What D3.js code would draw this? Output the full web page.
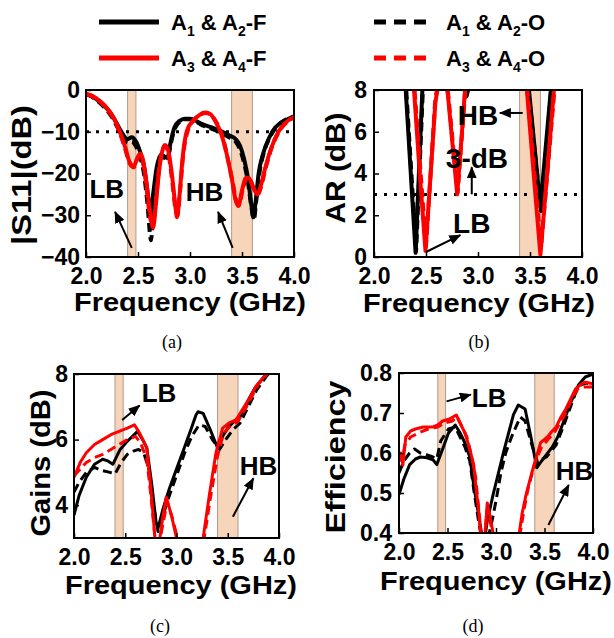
<!DOCTYPE html>
<html>
<head>
<meta charset="utf-8">
<script src="https://cdn.jsdelivr.net/npm/d3@7"></script>
<style>
  body { margin: 0; background: #fff; }
  svg text { font-family: "Liberation Sans", Arial, sans-serif; font-weight: bold; fill: #000; }
</style>
</head>
<body>
<div id="chart"></div>
<script>
// ---- data ----
const freqTicks = [2.0, 2.5, 3.0, 3.5, 4.0];
const legendNames = ["A1 & A2-F", "A3 & A4-F", "A1 & A2-O", "A3 & A4-O"];
const bandLB = [2.40, 2.48];
const bandHB = [3.40, 3.60];

// (a) |S11| in dB, [GHz, dB]
const s11BlackF = [[2.00,-1.0],[2.05,-1.4],[2.10,-2.2],[2.15,-3.2],[2.20,-4.4],[2.25,-6.0],[2.30,-8.2],[2.35,-10.4],[2.40,-11.8],[2.44,-11.3],[2.48,-12.3],[2.52,-14.8],[2.56,-18.5],[2.59,-24],[2.62,-29.5],[2.645,-25],[2.68,-18.5],[2.72,-15.5],[2.76,-16.0],[2.785,-16.3],[2.81,-13],[2.85,-9],[2.90,-7.4],[2.95,-6.9],[3.00,-6.9],[3.05,-7.3],[3.10,-8.0],[3.20,-8.9],[3.30,-9.9],[3.38,-10.9],[3.44,-11.8],[3.48,-13.3],[3.52,-16.5],[3.56,-21.5],[3.59,-27.5],[3.61,-30.5],[3.63,-27],[3.66,-20],[3.70,-15.5],[3.76,-11.5],[3.82,-9.0],[3.90,-7.5],[4.00,-6.3]];
const s11BlackO = [[2.00,-1.0],[2.05,-1.5],[2.10,-2.4],[2.15,-3.5],[2.20,-4.8],[2.25,-6.5],[2.30,-8.8],[2.35,-11.0],[2.40,-12.6],[2.44,-12.4],[2.48,-13.5],[2.52,-16],[2.56,-20.5],[2.59,-27],[2.625,-36],[2.65,-27],[2.68,-19.5],[2.72,-16],[2.76,-16.3],[2.785,-16.5],[2.81,-13.5],[2.85,-9.5],[2.90,-7.6],[2.95,-7.0],[3.00,-7.0],[3.05,-7.4],[3.10,-8.2],[3.20,-9.2],[3.30,-10.3],[3.38,-11.4],[3.44,-12.4],[3.48,-14.2],[3.52,-17.5],[3.56,-22.5],[3.59,-28],[3.615,-31],[3.635,-27],[3.67,-19.5],[3.71,-15],[3.77,-11.2],[3.83,-8.8],[3.90,-7.4],[4.00,-6.4]];
const s11RedF = [[2.00,-0.9],[2.05,-1.3],[2.10,-2.0],[2.15,-3.0],[2.20,-4.3],[2.25,-6.0],[2.30,-8.4],[2.34,-11],[2.38,-14],[2.42,-17.3],[2.46,-18.3],[2.49,-16.5],[2.52,-15.2],[2.55,-17],[2.58,-22],[2.62,-30],[2.645,-33],[2.67,-28],[2.70,-20],[2.73,-15],[2.76,-13.2],[2.79,-14.5],[2.83,-21],[2.86,-28],[2.875,-30.5],[2.90,-25],[2.93,-16],[2.97,-9.8],[3.03,-7.3],[3.09,-6.0],[3.14,-5.4],[3.19,-5.7],[3.24,-7.3],[3.30,-10.5],[3.35,-15],[3.40,-21],[3.44,-26.5],[3.465,-27.8],[3.50,-24],[3.54,-21],[3.57,-21.2],[3.61,-23.5],[3.65,-25],[3.68,-23],[3.72,-19],[3.78,-14],[3.85,-10],[3.92,-7.8],[4.00,-6.5]];
const s11RedO = [[2.00,-1.0],[2.05,-1.4],[2.10,-2.1],[2.15,-3.1],[2.20,-4.5],[2.25,-6.2],[2.30,-8.7],[2.34,-11.3],[2.38,-14.4],[2.42,-17.6],[2.46,-18.5],[2.49,-16.8],[2.52,-15.5],[2.55,-17.5],[2.58,-23],[2.62,-31],[2.645,-32],[2.67,-27],[2.70,-19.5],[2.73,-14.8],[2.76,-13.4],[2.79,-15],[2.83,-22],[2.86,-28.5],[2.88,-30],[2.905,-24],[2.935,-15.5],[2.98,-9.6],[3.04,-7.2],[3.10,-5.9],[3.15,-5.5],[3.20,-5.9],[3.25,-7.6],[3.31,-11],[3.36,-16],[3.41,-22],[3.45,-27],[3.47,-27.5],[3.51,-23.5],[3.55,-21],[3.58,-21.5],[3.62,-24],[3.66,-24.8],[3.69,-22.5],[3.73,-18.5],[3.79,-13.5],[3.86,-9.8],[3.93,-7.7],[4.00,-6.6]];

// (b) axial ratio in dB
const arBlackF = [[2.25,14],[2.305,8],[2.40,0.2],[2.465,8],[2.52,14],[2.80,10],[2.87,8.1],[2.89,7.7],[2.91,8.1],[2.98,10],[3.40,14],[3.49,8],[3.60,2.4],[3.70,8],[3.76,12]];
const arBlackO = [[2.26,14],[2.31,8],[2.405,0.3],[2.47,8],[2.53,14],[3.40,14],[3.485,8],[3.605,2.2],[3.705,8],[3.76,12]];
const arRedF = [[2.33,14],[2.385,8],[2.44,4],[2.495,0.3],[2.545,4],[2.59,7.4],[2.63,8.6],[2.67,8.8],[2.71,7.8],[2.755,5.4],[2.80,3.0],[2.84,5.6],[2.875,8],[2.92,12],[3.40,14],[3.47,8],[3.535,4],[3.60,0.1],[3.665,4],[3.73,8],[3.78,12]];
const arRedO = [[2.34,14],[2.39,8],[2.50,0.5],[2.59,7.6],[2.63,8.7],[2.67,8.8],[2.71,8.0],[2.755,5.6],[2.805,3.1],[2.845,5.8],[2.88,8.1],[2.93,12],[3.40,14],[3.475,8],[3.605,0.4],[3.735,8],[3.78,12]];

// (c) gain in dB
const gainBlackF = [[2.00,3.7],[2.05,4.3],[2.12,4.85],[2.20,5.25],[2.28,5.4],[2.33,5.35],[2.38,5.25],[2.45,5.7],[2.52,5.95],[2.57,6.1],[2.62,6.25],[2.67,6.0],[2.71,5.75],[2.76,4.6],[2.80,3.5],[2.82,3.3],[2.87,3.9],[2.93,4.5],[3.00,5.1],[3.07,5.7],[3.14,6.3],[3.19,6.75],[3.21,6.85],[3.26,6.8],[3.33,6.3],[3.40,5.75],[3.45,6.1],[3.50,6.35],[3.56,6.55],[3.62,6.7],[3.70,7.2],[3.77,7.6],[3.85,7.9],[3.92,8.2],[4.00,8.5]];
const gainBlackO = [[2.00,4.4],[2.05,4.7],[2.12,5.0],[2.20,5.15],[2.28,5.05],[2.35,5.0],[2.40,4.95],[2.46,5.3],[2.52,5.55],[2.58,5.65],[2.63,5.7],[2.68,5.6],[2.73,5.1],[2.78,3.9],[2.82,3.2],[2.86,3.6],[2.92,4.2],[3.00,4.9],[3.08,5.6],[3.15,6.1],[3.22,6.45],[3.28,6.4],[3.35,6.0],[3.42,5.7],[3.48,6.0],[3.55,6.3],[3.62,6.5],[3.70,7.0],[3.78,7.5],[3.87,7.9],[3.95,8.2],[4.00,8.4]];
const gainRedF = [[2.00,4.85],[2.06,5.3],[2.12,5.6],[2.20,5.85],[2.28,6.0],[2.36,6.15],[2.44,6.25],[2.52,6.35],[2.59,6.45],[2.64,6.2],[2.71,5.75],[2.75,4.5],[2.79,3.0],[2.82,2.6],[2.86,3.5],[2.90,4.25],[2.95,3.7],[3.00,3.0],[3.05,2.2],[3.15,1.5],[3.22,2.2],[3.26,3.0],[3.32,4.3],[3.385,5.6],[3.45,6.35],[3.51,6.5],[3.58,6.6],[3.64,6.9],[3.70,7.2],[3.77,7.6],[3.85,7.9],[3.90,8.05],[4.00,8.5]];
const gainRedO = [[2.00,4.9],[2.06,5.1],[2.12,5.3],[2.20,5.45],[2.28,5.55],[2.36,5.7],[2.44,5.85],[2.52,6.0],[2.60,6.1],[2.65,5.9],[2.71,5.4],[2.75,4.3],[2.79,3.0],[2.82,2.6],[2.86,3.3],[2.91,4.1],[2.96,3.6],[3.01,3.0],[3.05,2.2],[3.15,1.5],[3.22,2.2],[3.27,3.0],[3.33,4.2],[3.40,5.5],[3.46,6.2],[3.52,6.4],[3.60,6.55],[3.70,7.1],[3.80,7.7],[3.90,8.05],[4.00,8.45]];

// (d) radiation efficiency
const effBlackF = [[2.00,0.496],[2.05,0.535],[2.11,0.571],[2.17,0.585],[2.22,0.59],[2.29,0.588],[2.35,0.583],[2.39,0.571],[2.45,0.61],[2.51,0.65],[2.58,0.67],[2.63,0.65],[2.68,0.625],[2.73,0.59],[2.77,0.52],[2.82,0.446],[2.85,0.40],[2.88,0.38],[2.91,0.43],[2.97,0.496],[3.03,0.555],[3.08,0.604],[3.13,0.65],[3.18,0.696],[3.23,0.72],[3.30,0.71],[3.36,0.64],[3.42,0.563],[3.47,0.58],[3.52,0.596],[3.58,0.615],[3.63,0.637],[3.70,0.68],[3.76,0.72],[3.85,0.77],[3.92,0.79],[4.00,0.797]];
const effBlackO = [[2.00,0.55],[2.05,0.58],[2.11,0.60],[2.16,0.61],[2.22,0.60],[2.29,0.595],[2.35,0.59],[2.39,0.585],[2.43,0.63],[2.51,0.66],[2.58,0.665],[2.63,0.64],[2.68,0.615],[2.73,0.58],[2.77,0.51],[2.82,0.43],[2.85,0.39],[2.90,0.37],[2.95,0.42],[3.00,0.48],[3.05,0.55],[3.10,0.60],[3.16,0.64],[3.25,0.69],[3.30,0.68],[3.37,0.62],[3.43,0.575],[3.48,0.585],[3.52,0.59],[3.57,0.605],[3.62,0.62],[3.70,0.67],[3.76,0.71],[3.82,0.75],[3.87,0.77],[3.93,0.775],[4.00,0.77]];
const effRedF = [[2.00,0.585],[2.02,0.60],[2.04,0.57],[2.07,0.64],[2.12,0.655],[2.17,0.66],[2.25,0.665],[2.35,0.665],[2.40,0.67],[2.45,0.68],[2.52,0.685],[2.59,0.695],[2.63,0.675],[2.68,0.65],[2.73,0.61],[2.77,0.57],[2.80,0.50],[2.82,0.46],[2.84,0.40],[2.87,0.36],[2.89,0.41],[2.91,0.475],[2.94,0.44],[2.97,0.40],[3.05,0.33],[3.20,0.33],[3.24,0.40],[3.27,0.45],[3.31,0.496],[3.38,0.56],[3.46,0.626],[3.53,0.64],[3.58,0.655],[3.62,0.665],[3.67,0.69],[3.72,0.71],[3.78,0.74],[3.82,0.76],[3.88,0.772],[3.92,0.777],[4.00,0.773]];
const effRedO = [[2.00,0.59],[2.03,0.58],[2.06,0.62],[2.12,0.64],[2.20,0.65],[2.30,0.66],[2.40,0.665],[2.47,0.675],[2.55,0.68],[2.60,0.69],[2.64,0.67],[2.70,0.64],[2.75,0.59],[2.79,0.54],[2.83,0.44],[2.85,0.39],[2.88,0.38],[2.91,0.46],[2.94,0.43],[2.97,0.39],[3.05,0.33],[3.20,0.33],[3.25,0.40],[3.29,0.46],[3.33,0.51],[3.40,0.575],[3.47,0.615],[3.54,0.635],[3.60,0.65],[3.66,0.675],[3.72,0.70],[3.78,0.735],[3.84,0.76],[3.90,0.765],[4.00,0.765]];

// ---- drawing ----
const W = 614, H = 638;
const svg = d3.select("#chart").append("svg").attr("width", W).attr("height", H);
const defs = svg.append("defs");
defs.append("marker")
  .attr("id", "arrow").attr("viewBox", "0 0 12 10")
  .attr("refX", 11).attr("refY", 5)
  .attr("markerWidth", 6).attr("markerHeight", 5)
  .attr("orient", "auto")
  .append("path").attr("d", "M0,0L12,5L0,10z").attr("fill", "#000");

const styles = [
  { color: "#000", dash: null },      // A1&A2-F
  { color: "#000", dash: "9,5" },     // A1&A2-O
  { color: "#ff0000", dash: "9,5" },  // A3&A4-O
  { color: "#ff0000", dash: null }    // A3&A4-F
];

function drawPanel(p) {
  const x = d3.scaleLinear().domain([2, 4]).range([p.x0, p.x1]);
  const y = d3.scaleLinear().domain(p.yDomain).range([p.y1, p.y0]);
  const g = svg.append("g");

  const clipId = "clip-" + p.id;
  defs.append("clipPath").attr("id", clipId)
    .append("rect")
    .attr("x", p.x0).attr("y", p.y0)
    .attr("width", p.x1 - p.x0).attr("height", p.y1 - p.y0);

  // shaded bands
  g.selectAll("rect.band").data(p.bands).join("rect")
    .attr("class", "band")
    .attr("x", d => x(d[0])).attr("y", p.y0)
    .attr("width", d => x(d[1]) - x(d[0])).attr("height", p.y1 - p.y0)
    .attr("fill", "#f7d5bb").attr("stroke", "#b09a8e").attr("stroke-width", 1);

  // reference line
  if (p.refLine != null) {
    g.append("line")
      .attr("x1", p.x0).attr("x2", p.x1)
      .attr("y1", y(p.refLine)).attr("y2", y(p.refLine))
      .attr("stroke", "#000").attr("stroke-width", 3)
      .attr("stroke-dasharray", "3,7");
  }

  const line = d3.line().x(d => x(d[0])).y(d => y(d[1])).curve(p.curve);
  const lg = g.append("g").attr("clip-path", `url(#${clipId})`);
  p.series.forEach((s, i) => {
    lg.append("path")
      .attr("d", line(s))
      .attr("fill", "none")
      .attr("stroke", styles[i].color)
      .attr("stroke-width", p.lw)
      .attr("stroke-dasharray", styles[i].dash)
      .attr("stroke-linejoin", "round");
  });

  // axes
  const xAxis = d3.axisBottom(x).tickValues(freqTicks).tickFormat(d3.format(".1f"))
    .tickSizeInner(-5).tickSizeOuter(0).tickPadding(11);
  const gx = g.append("g").attr("transform", `translate(0,${p.y1})`).call(xAxis);
  const yAxis = d3.axisLeft(y).tickValues(p.yTicks).tickFormat(p.yFormat)
    .tickSizeInner(-5).tickSizeOuter(0).tickPadding(p.yPad);
  const gy = g.append("g").attr("transform", `translate(${p.x0},0)`).call(yAxis);
  [gx, gy].forEach(a => {
    a.select(".domain").remove();
    a.selectAll(".tick line").attr("stroke", "#000").attr("stroke-width", 1.5);
    a.selectAll(".tick text").style("font-size", "23px")
      .style("font-family", "'Liberation Sans', Arial, sans-serif").style("font-weight", "bold");
  });

  // frame
  g.append("rect")
    .attr("x", p.x0).attr("y", p.y0)
    .attr("width", p.x1 - p.x0).attr("height", p.y1 - p.y0)
    .attr("fill", "none").attr("stroke", "#000").attr("stroke-width", 2);

  // axis titles
  g.append("text")
    .attr("x", p.xTitleX).attr("y", p.y1 + p.xTitleGap)
    .attr("text-anchor", "middle").style("font-size", "26px")
    .attr("textLength", 232).attr("lengthAdjust", "spacingAndGlyphs")
    .text("Frequency (GHz)");
  g.append("text")
    .attr("transform", `translate(${p.yTitleX},${p.yTitleY}) rotate(-90)`)
    .attr("text-anchor", "middle").style("font-size", "27px")
    .attr("textLength", p.yTitleLen).attr("lengthAdjust", "spacingAndGlyphs")
    .text(p.yTitle);

  // annotations
  p.notes.forEach(n => {
    g.append("text").attr("x", x(n.at[0])).attr("y", y(n.at[1]))
      .attr("text-anchor", "middle").style("font-size", p.noteSize + "px").text(n.text);
    if (n.from) {
      g.append("line")
        .attr("x1", x(n.from[0])).attr("y1", y(n.from[1]))
        .attr("x2", x(n.to[0])).attr("y2", y(n.to[1]))
        .attr("stroke", "#000").attr("stroke-width", 2)
        .attr("marker-end", "url(#arrow)");
    }
  });

  // caption
  svg.append("text").attr("x", p.capX).attr("y", p.capY)
    .attr("text-anchor", "middle")
    .style("font-family", "'Liberation Serif', 'Times New Roman', serif")
    .style("font-weight", "normal").style("font-size", "18px")
    .text(p.caption);
}

drawPanel({
  id: "a", x0: 86, x1: 294, y0: 90, y1: 257,
  yDomain: [-40, 0], yTicks: [-40, -30, -20, -10, 0], yFormat: d3.format("d"), yPad: 6,
  series: [s11BlackF, s11BlackO, s11RedO, s11RedF], lw: 4, curve: d3.curveMonotoneX,
  bands: [bandLB, bandHB], refLine: -10,
  yTitle: "|S11|(dB)", yTitleX: 31, yTitleY: 175, yTitleLen: 140,
  xTitleX: 190, xTitleGap: 54,
  noteSize: 26,
  notes: [
    { text: "LB", at: [2.20, -25.9], from: [2.44, -37.8], to: [2.28, -29.2] },
    { text: "HB", at: [3.14, -26.6], from: [3.41, -37.8], to: [3.27, -29.2] }
  ],
  caption: "(a)", capX: 172, capY: 348
});

drawPanel({
  id: "b", x0: 374, x1: 582, y0: 90, y1: 257,
  yDomain: [0, 8], yTicks: [0, 2, 4, 6, 8], yFormat: d3.format("d"), yPad: 7,
  series: [arBlackF, arBlackO, arRedO, arRedF], lw: 4, curve: d3.curveLinear,
  bands: [bandHB], refLine: 3,
  yTitle: "AR (dB)", yTitleX: 345, yTitleY: 168, yTitleLen: 111,
  xTitleX: 479, xTitleGap: 55,
  noteSize: 28,
  notes: [
    { text: "HB", at: [3.0, 6.32], from: [3.43, 6.9], to: [3.21, 6.9] },
    { text: "3-dB", at: [2.99, 4.26], from: [2.94, 3.0], to: [2.94, 4.3] },
    { text: "LB", at: [2.94, 1.15], from: [2.50, 0.24], to: [2.83, 1.05] }
  ],
  caption: "(b)", capX: 479, capY: 348
});

drawPanel({
  id: "c", x0: 74, x1: 279, y0: 374, y1: 538,
  yDomain: [3, 8], yTicks: [4, 6, 8], yFormat: d3.format("d"), yPad: 6,
  series: [gainBlackF, gainBlackO, gainRedO, gainRedF], lw: 3, curve: d3.curveLinear,
  bands: [bandLB, bandHB], refLine: null,
  yTitle: "Gains (dB)", yTitleX: 50, yTitleY: 463, yTitleLen: 147,
  xTitleX: 181, xTitleGap: 56,
  noteSize: 26,
  notes: [
    { text: "LB", at: [2.83, 7.15], from: [2.47, 6.6], to: [2.64, 7.04] },
    { text: "HB", at: [3.80, 4.92], from: [3.55, 3.65], to: [3.75, 4.82] }
  ],
  caption: "(c)", capX: 160, capY: 632
});

drawPanel({
  id: "d", x0: 399, x1: 593, y0: 373, y1: 533,
  yDomain: [0.4, 0.8], yTicks: [0.4, 0.5, 0.6, 0.7, 0.8], yFormat: d3.format(".1f"), yPad: 7,
  series: [effBlackF, effBlackO, effRedO, effRedF], lw: 3, curve: d3.curveLinear,
  bands: [bandLB, bandHB], refLine: null,
  yTitle: "Efficiency", yTitleX: 345, yTitleY: 457, yTitleLen: 153,
  xTitleX: 496, xTitleGap: 57,
  noteSize: 26,
  notes: [
    { text: "LB", at: [2.93, 0.715], from: [2.49, 0.729], to: [2.74, 0.746] },
    { text: "HB", at: [3.81, 0.533], from: [3.54, 0.42], to: [3.75, 0.52] }
  ],
  caption: "(d)", capX: 473, capY: 632
});

// ---- legend ----
const legendPos = [
  { x: 99, y: 22 }, { x: 99, y: 58 }, { x: 374, y: 22 }, { x: 374, y: 58 }
];
const legendStyle = [styles[0], styles[3], styles[1], styles[2]];
legendNames.forEach((name, i) => {
  const pos = legendPos[i];
  svg.append("line")
    .attr("x1", pos.x).attr("x2", pos.x + 60)
    .attr("y1", pos.y).attr("y2", pos.y)
    .attr("stroke", legendStyle[i].color).attr("stroke-width", 5)
    .attr("stroke-dasharray", legendStyle[i].dash ? "12,8" : null);
  const t = svg.append("text").attr("x", pos.x + 72).attr("y", pos.y + 8)
    .style("font-size", "22px");
  let prevSub = false;
  name.split(/(\d)/).filter(s => s.length).forEach(part => {
    const isSub = /^\d$/.test(part);
    t.append("tspan")
      .attr("dy", isSub ? 6 : (prevSub ? -6 : 0))
      .style("font-size", isSub ? "14px" : "22px")
      .text(part);
    prevSub = isSub;
  });
});
</script>
</body>
</html>
